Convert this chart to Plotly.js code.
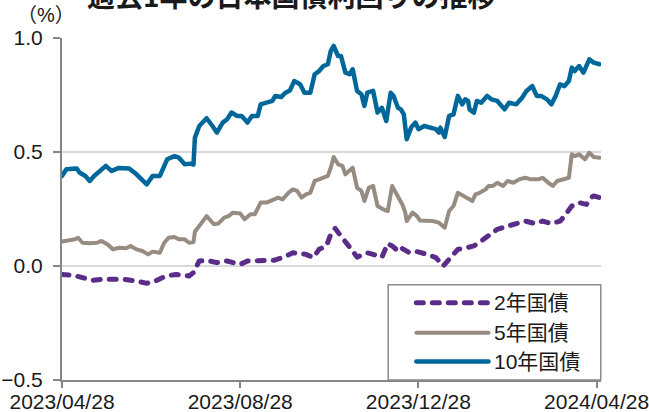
<!DOCTYPE html>
<html><head><meta charset="utf-8">
<script src="https://cdn.plot.ly/plotly-3.0.1.min.js"></script>
<style>
html,body{margin:0;padding:0;background:#fff;}
#chart{width:649px;height:412px;}
.scatterlayer path.js-line{stroke-linejoin:round;stroke-linecap:round;}
.shapelayer path{stroke-linecap:round;}
</style></head>
<body><div id="chart"></div>
<script>
const chartTitle = "過去1年の日本国債利回りの推移";
const unitLabel = "（%）";
const seriesNames = ["2年国債", "5年国債", "10年国債"];
const tickDates = ["2023-04-28", "2023-08-28", "2023-12-28", "2024-04-28"];
const tickLabels = ["2023/04/28", "2023/08/28", "2023/12/28", "2024/04/28"];

const dates10 = ["2023-04-28","2023-05-01","2023-05-08","2023-05-10","2023-05-14","2023-05-17","2023-05-20","2023-05-25","2023-05-28","2023-06-01","2023-06-06","2023-06-13","2023-06-18","2023-06-25","2023-06-29","2023-07-04","2023-07-06","2023-07-09","2023-07-14","2023-07-17","2023-07-21","2023-07-25","2023-07-27","2023-07-28","2023-07-31","2023-08-05","2023-08-09","2023-08-12","2023-08-16","2023-08-19","2023-08-22","2023-08-26","2023-08-29","2023-09-02","2023-09-05","2023-09-09","2023-09-11","2023-09-15","2023-09-19","2023-09-21","2023-09-25","2023-09-28","2023-10-01","2023-10-04","2023-10-08","2023-10-11","2023-10-15","2023-10-18","2023-10-21","2023-10-24","2023-10-27","2023-10-29","2023-10-31","2023-11-03","2023-11-05","2023-11-08","2023-11-11","2023-11-13","2023-11-16","2023-11-19","2023-11-21","2023-11-23","2023-11-27","2023-11-30","2023-12-03","2023-12-06","2023-12-09","2023-12-11","2023-12-14","2023-12-16","2023-12-18","2023-12-20","2023-12-23","2023-12-26","2023-12-28","2024-01-01","2024-01-05","2024-01-09","2024-01-11","2024-01-12","2024-01-15","2024-01-18","2024-01-21","2024-01-24","2024-01-27","2024-01-29","2024-01-31","2024-02-01","2024-02-04","2024-02-06","2024-02-09","2024-02-13","2024-02-16","2024-02-20","2024-02-25","2024-02-28","2024-03-04","2024-03-08","2024-03-11","2024-03-15","2024-03-18","2024-03-21","2024-03-25","2024-03-28","2024-03-31","2024-04-03","2024-04-06","2024-04-09","2024-04-11","2024-04-13","2024-04-16","2024-04-19","2024-04-23","2024-04-26","2024-04-30"];
const jgb10 = [0.395,0.424,0.428,0.41,0.395,0.373,0.395,0.424,0.439,0.417,0.43,0.428,0.402,0.358,0.395,0.395,0.424,0.468,0.482,0.475,0.446,0.449,0.445,0.563,0.614,0.648,0.614,0.585,0.629,0.643,0.673,0.658,0.658,0.629,0.658,0.658,0.709,0.716,0.724,0.746,0.741,0.760,0.770,0.811,0.797,0.760,0.760,0.841,0.855,0.877,0.885,0.943,0.965,0.921,0.921,0.848,0.841,0.863,0.768,0.753,0.702,0.760,0.768,0.673,0.694,0.636,0.760,0.746,0.694,0.687,0.665,0.556,0.607,0.629,0.600,0.614,0.607,0.600,0.585,0.607,0.566,0.658,0.665,0.746,0.709,0.731,0.724,0.687,0.673,0.724,0.716,0.746,0.731,0.724,0.687,0.716,0.709,0.738,0.768,0.789,0.746,0.746,0.731,0.709,0.746,0.797,0.789,0.811,0.870,0.855,0.877,0.848,0.906,0.892,0.885];

const dates5 = ["2023-04-28","2023-05-03","2023-05-07","2023-05-09","2023-05-12","2023-05-17","2023-05-22","2023-05-25","2023-05-29","2023-06-02","2023-06-06","2023-06-11","2023-06-14","2023-06-18","2023-06-22","2023-06-26","2023-06-29","2023-07-04","2023-07-07","2023-07-10","2023-07-14","2023-07-17","2023-07-21","2023-07-24","2023-07-27","2023-07-28","2023-07-31","2023-08-02","2023-08-05","2023-08-10","2023-08-13","2023-08-17","2023-08-20","2023-08-23","2023-08-28","2023-08-31","2023-09-04","2023-09-07","2023-09-11","2023-09-15","2023-09-20","2023-09-23","2023-09-26","2023-09-30","2023-10-03","2023-10-06","2023-10-09","2023-10-12","2023-10-15","2023-10-18","2023-10-21","2023-10-25","2023-10-27","2023-10-29","2023-10-31","2023-11-03","2023-11-06","2023-11-08","2023-11-11","2023-11-13","2023-11-16","2023-11-19","2023-11-21","2023-11-24","2023-11-27","2023-11-30","2023-12-04","2023-12-07","2023-12-10","2023-12-12","2023-12-15","2023-12-17","2023-12-19","2023-12-20","2023-12-24","2023-12-27","2023-12-29","2024-01-03","2024-01-07","2024-01-11","2024-01-15","2024-01-18","2024-01-21","2024-01-24","2024-01-28","2024-01-31","2024-02-03","2024-02-05","2024-02-08","2024-02-12","2024-02-14","2024-02-17","2024-02-20","2024-02-24","2024-02-27","2024-03-02","2024-03-06","2024-03-10","2024-03-14","2024-03-19","2024-03-22","2024-03-26","2024-03-29","2024-04-01","2024-04-06","2024-04-09","2024-04-11","2024-04-13","2024-04-16","2024-04-20","2024-04-23","2024-04-26","2024-04-30"];
const jgb5 = [0.107,0.113,0.117,0.124,0.102,0.100,0.102,0.110,0.095,0.073,0.080,0.078,0.088,0.073,0.066,0.051,0.063,0.058,0.102,0.124,0.127,0.117,0.117,0.102,0.105,0.150,0.175,0.190,0.219,0.183,0.186,0.212,0.219,0.234,0.230,0.205,0.227,0.227,0.278,0.278,0.292,0.300,0.292,0.321,0.336,0.329,0.300,0.314,0.321,0.373,0.380,0.387,0.395,0.431,0.478,0.446,0.439,0.402,0.417,0.431,0.343,0.329,0.285,0.343,0.351,0.263,0.248,0.241,0.351,0.329,0.292,0.270,0.234,0.197,0.234,0.219,0.200,0.200,0.197,0.190,0.168,0.241,0.263,0.321,0.307,0.300,0.285,0.314,0.321,0.336,0.351,0.351,0.365,0.351,0.373,0.365,0.380,0.387,0.380,0.380,0.387,0.365,0.351,0.373,0.380,0.387,0.490,0.482,0.490,0.468,0.497,0.478,0.475];

const dates2 = ["2023-04-28","2023-05-06","2023-05-12","2023-05-19","2023-05-26","2023-06-02","2023-06-09","2023-06-18","2023-06-25","2023-07-01","2023-07-08","2023-07-15","2023-07-24","2023-07-27","2023-07-31","2023-08-05","2023-08-12","2023-08-19","2023-08-28","2023-09-02","2023-09-11","2023-09-20","2023-09-26","2023-10-03","2023-10-12","2023-10-17","2023-10-21","2023-10-26","2023-10-29","2023-11-01","2023-11-04","2023-11-08","2023-11-13","2023-11-16","2023-11-23","2023-11-27","2023-12-03","2023-12-07","2023-12-10","2023-12-14","2023-12-16","2023-12-22","2023-12-27","2024-01-03","2024-01-09","2024-01-14","2024-01-19","2024-01-24","2024-01-30","2024-02-04","2024-02-09","2024-02-16","2024-02-20","2024-02-27","2024-03-03","2024-03-10","2024-03-17","2024-03-22","2024-03-28","2024-04-03","2024-04-06","2024-04-11","2024-04-16","2024-04-21","2024-04-24","2024-04-26","2024-04-30"];
const jgb2 = [-0.037,-0.041,-0.051,-0.063,-0.058,-0.058,-0.058,-0.066,-0.076,-0.066,-0.044,-0.037,-0.044,-0.029,0.022,0.025,0.015,0.022,0.007,0.022,0.022,0.025,0.037,0.058,0.051,0.037,0.073,0.088,0.139,0.165,0.139,0.110,0.066,0.039,0.058,0.051,0.039,0.098,0.088,0.066,0.080,0.058,0.063,0.051,0.037,0.000,0.037,0.073,0.080,0.088,0.110,0.142,0.161,0.175,0.186,0.197,0.186,0.197,0.186,0.197,0.219,0.263,0.278,0.270,0.300,0.307,0.300];

const colors = ["#5b2d89", "#968c82", "#00679a"];
const widths = [5, 4, 4.5];
const dashes = ["7px,9px", "solid", "solid"];

const fontLatin = "Liberation Sans, Arial, Noto Sans CJK JP, sans-serif";

const traces = [
  {x: dates2, y: jgb2, name: seriesNames[0], type: "scatter", mode: "lines",
   line: {color: colors[0], width: widths[0], dash: dashes[0]}},
  {x: dates5, y: jgb5, name: seriesNames[1], type: "scatter", mode: "lines",
   line: {color: colors[1], width: widths[1]}},
  {x: dates10, y: jgb10, name: seriesNames[2], type: "scatter", mode: "lines",
   line: {color: colors[2], width: widths[2]}}
];

// custom legend (box + line samples + labels), in paper coordinates
const legRows = [0.2259, 0.1385, 0.0539];
const shapes = [{type: "rect", xref: "paper", yref: "paper", x0: 0.6052, x1: 0.9995, y0: 0, y1: 0.2784,
  line: {color: "#8c8c8c", width: 1.5}, fillcolor: "#ffffff", layer: "above"}];
const annotations = [
  {text: "<b>" + chartTitle + "</b>", xref: "paper", yref: "paper", x: 0.426, y: 1.127,
   xanchor: "center", yanchor: "middle", showarrow: false,
   font: {family: "Noto Sans CJK JP, sans-serif", size: 28, color: "#1a1a1a"}},
  {text: unitLabel, xref: "paper", yref: "paper", x: -0.03, y: 1.068,
   xanchor: "center", yanchor: "middle", showarrow: false,
   font: {family: fontLatin, size: 20, color: "#1a1a1a"}}
];
seriesNames.forEach((n, i) => {
  shapes.push({type: "line", xref: "paper", yref: "paper", x0: 0.6574, x1: 0.7914,
    y0: legRows[i], y1: legRows[i], layer: "above",
    line: {color: colors[i], width: widths[i], dash: dashes[i]}});
  annotations.push({text: n, xref: "paper", yref: "paper", x: 0.7970, y: legRows[i],
    xanchor: "left", yanchor: "middle", showarrow: false,
    font: {family: fontLatin, size: 21, color: "#1a1a1a"}});
});

const layout = {
  width: 649, height: 412,
  margin: {l: 62, r: 48, t: 37.5, b: 31.5, pad: 0},
  paper_bgcolor: "#ffffff", plot_bgcolor: "#ffffff",
  showlegend: false,
  font: {family: fontLatin, size: 21, color: "#1a1a1a"},
  xaxis: {
    type: "date", range: ["2023-04-28", "2024-05-01"],
    tickvals: tickDates, ticktext: tickLabels,
    showgrid: false, zeroline: false,
    showline: true, linecolor: "#868686", linewidth: 2,
    ticks: "outside", ticklen: 6, tickwidth: 2, tickcolor: "#868686",
    ticklabelstandoff: -4, ticklabeloverflow: "allow",
    tickfont: {family: fontLatin, size: 21, color: "#1a1a1a"}
  },
  yaxis: {
    range: [-0.5, 1.0], tickvals: [-0.5, 0, 0.5, 1.0], tickformat: ".1f",
    showgrid: true, gridcolor: "#d9d9d9", gridwidth: 1.5, zeroline: false,
    showline: true, linecolor: "#868686", linewidth: 2,
    ticks: "outside", ticklen: 7, tickwidth: 2, tickcolor: "#868686",
    ticklabelstandoff: 6,
    tickfont: {family: fontLatin, size: 21, color: "#1a1a1a"}
  },
  shapes: shapes,
  annotations: annotations
};

Plotly.newPlot("chart", traces, layout, {displayModeBar: false, staticPlot: true});
</script></body></html>
